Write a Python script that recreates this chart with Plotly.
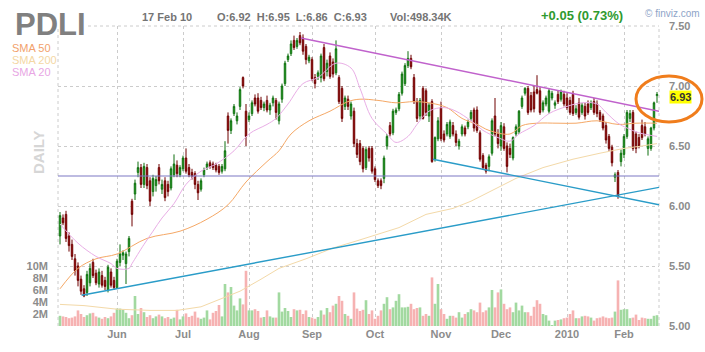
import plotly.graph_objects as go

# ---------------- data ----------------
ticker = "PDLI"
month_labels = ["Jun", "Jul", "Aug", "Sep", "Oct", "Nov", "Dec", "2010", "Feb"]
month_start_idx = [19, 41, 63, 84, 105, 127, 147, 169, 188]

opens = [5.75, 5.90, 5.93, 5.75, 5.68, 5.56, 5.50, 5.39, 5.31, 5.28,
         5.36, 5.53, 5.44, 5.35, 5.42, 5.38, 5.30, 5.45, 5.38, 5.32,
         5.53, 5.59, 5.52, 5.62, 6.04, 6.10, 6.28, 6.32, 6.18, 6.32,
         6.21, 6.12, 6.17, 6.32, 6.14, 6.21, 6.18, 6.15, 6.26, 6.34,
         6.26, 6.31, 6.40, 6.32, 6.28, 6.27, 6.18, 6.14, 6.26, 6.32,
         6.36, 6.35, 6.34, 6.33, 6.29, 6.31, 6.75, 6.63, 6.77, 6.71,
         6.83, 7.07, 6.79, 6.72, 6.77, 6.90, 6.90, 6.88, 6.82, 6.88,
         6.80, 6.86, 6.88, 6.71, 6.89, 7.02, 7.22, 7.27, 7.38, 7.33,
         7.42, 7.40, 7.33, 7.21, 7.22, 7.07, 7.08, 7.07, 7.32, 7.12,
         7.25, 7.20, 7.11, 7.07, 6.98, 6.83, 6.89, 6.75, 6.79, 6.52,
         6.52, 6.48, 6.32, 6.48, 6.48, 6.31, 6.21, 6.21, 6.23, 6.50,
         6.67, 6.61, 6.78, 6.81, 6.94, 7.02, 7.17, 7.23, 7.07, 6.87,
         6.75, 6.98, 6.96, 6.75, 6.87, 6.39, 6.56, 6.82, 6.60, 6.60,
         6.58, 6.67, 6.60, 6.50, 6.60, 6.65, 6.66, 6.73, 6.80, 6.80,
         6.61, 6.42, 6.34, 6.33, 6.44, 6.75, 6.60, 6.50, 6.66, 6.50,
         6.48, 6.40, 6.60, 6.62, 6.83, 6.94, 6.98, 6.92, 6.95, 6.97,
         6.96, 6.80, 6.85, 6.79, 6.90, 6.84, 6.93, 6.89, 6.93, 6.90,
         6.88, 6.93, 6.78, 6.86, 6.78, 6.83, 6.85, 6.82, 6.87, 6.85,
         6.78, 6.75, 6.67, 6.58, 6.49, 6.24, 6.28, 6.37, 6.43, 6.58,
         6.73, 6.78, 6.60, 6.57, 6.67, 6.66, 6.48, 6.48, 6.65, 6.92]
highs = [5.95, 5.93, 5.96, 5.78, 5.72, 5.60, 5.53, 5.42, 5.34, 5.46,
         5.52, 5.56, 5.47, 5.48, 5.46, 5.41, 5.51, 5.48, 5.41, 5.56,
         5.68, 5.63, 5.62, 5.75, 6.06, 6.22, 6.37, 6.35, 6.36, 6.35,
         6.24, 6.26, 6.25, 6.35, 6.22, 6.24, 6.21, 6.33, 6.43, 6.38,
         6.34, 6.42, 6.48, 6.35, 6.31, 6.29, 6.21, 6.23, 6.32, 6.37,
         6.38, 6.37, 6.36, 6.35, 6.35, 6.54, 6.78, 6.73, 6.85, 6.78,
         6.99, 7.08, 6.85, 6.78, 6.88, 6.93, 6.94, 6.91, 6.87, 6.92,
         6.86, 6.92, 6.90, 6.87, 7.02, 7.21, 7.27, 7.38, 7.42, 7.40,
         7.45, 7.43, 7.35, 7.26, 7.24, 7.10, 7.13, 7.27, 7.35, 7.22,
         7.28, 7.23, 7.38, 7.09, 7.00, 6.92, 6.92, 6.87, 6.82, 6.56,
         6.55, 6.50, 6.49, 6.50, 6.50, 6.33, 6.23, 6.23, 6.42, 6.60,
         6.70, 6.81, 6.82, 6.95, 7.12, 7.19, 7.29, 7.26, 7.10, 6.90,
         6.90, 7.00, 6.98, 6.86, 6.89, 6.58, 6.74, 6.87, 6.63, 6.70,
         6.72, 6.70, 6.63, 6.56, 6.68, 6.67, 6.72, 6.80, 6.82, 6.83,
         6.63, 6.44, 6.36, 6.43, 6.73, 6.90, 6.64, 6.70, 6.69, 6.53,
         6.52, 6.58, 6.68, 6.80, 6.92, 6.99, 7.00, 6.95, 7.00, 7.09,
         6.99, 6.88, 6.92, 6.98, 6.96, 6.88, 6.96, 6.97, 6.96, 6.94,
         6.91, 6.96, 6.84, 6.90, 6.86, 6.86, 6.88, 6.88, 6.90, 6.88,
         6.80, 6.77, 6.70, 6.60, 6.51, 6.28, 6.30, 6.47, 6.60, 6.80,
         6.80, 6.80, 6.62, 6.60, 6.72, 6.70, 6.58, 6.66, 6.87, 6.95]
lows = [5.68, 5.84, 5.70, 5.62, 5.55, 5.42, 5.33, 5.26, 5.24, 5.25,
        5.33, 5.40, 5.34, 5.32, 5.32, 5.30, 5.28, 5.32, 5.30, 5.31,
        5.50, 5.55, 5.35, 5.58, 5.83, 6.05, 6.24, 6.15, 6.15, 6.14,
        6.00, 6.08, 6.12, 6.18, 6.10, 6.04, 6.08, 6.13, 6.24, 6.24,
        6.24, 6.29, 6.27, 6.24, 6.22, 6.14, 6.05, 6.12, 6.24, 6.30,
        6.31, 6.30, 6.28, 6.26, 6.27, 6.29, 6.52, 6.60, 6.75, 6.68,
        6.80, 6.98, 6.50, 6.70, 6.75, 6.83, 6.77, 6.80, 6.79, 6.78,
        6.76, 6.83, 6.72, 6.68, 6.86, 7.00, 7.20, 7.25, 7.30, 7.31,
        7.34, 7.26, 7.18, 7.19, 7.04, 6.98, 7.05, 7.03, 7.04, 7.08,
        7.06, 7.07, 7.09, 6.85, 6.70, 6.80, 6.80, 6.72, 6.49, 6.40,
        6.34, 6.28, 6.30, 6.37, 6.27, 6.20, 6.15, 6.14, 6.19, 6.47,
        6.58, 6.59, 6.76, 6.79, 6.92, 7.00, 7.15, 7.14, 6.85, 6.70,
        6.72, 6.72, 6.75, 6.70, 6.36, 6.37, 6.54, 6.54, 6.53, 6.58,
        6.56, 6.58, 6.50, 6.47, 6.58, 6.58, 6.64, 6.71, 6.62, 6.61,
        6.37, 6.30, 6.27, 6.29, 6.42, 6.58, 6.48, 6.46, 6.46, 6.28,
        6.40, 6.38, 6.58, 6.60, 6.81, 6.92, 6.76, 6.78, 6.78, 6.93,
        6.76, 6.78, 6.83, 6.77, 6.88, 6.81, 6.85, 6.87, 6.83, 6.80,
        6.76, 6.75, 6.76, 6.72, 6.76, 6.72, 6.76, 6.80, 6.76, 6.74,
        6.70, 6.63, 6.52, 6.46, 6.33, 6.20, 6.06, 6.33, 6.40, 6.56,
        6.70, 6.46, 6.44, 6.48, 6.55, 6.58, 6.42, 6.46, 6.63, 6.86]
closes = [5.92, 5.86, 5.73, 5.67, 5.58, 5.46, 5.38, 5.29, 5.25, 5.43,
          5.48, 5.42, 5.36, 5.45, 5.34, 5.33, 5.49, 5.34, 5.32, 5.54,
          5.60, 5.61, 5.60, 5.73, 5.93, 6.19, 6.32, 6.18, 6.33, 6.17,
          6.04, 6.23, 6.22, 6.21, 6.18, 6.07, 6.12, 6.31, 6.35, 6.27,
          6.32, 6.40, 6.29, 6.26, 6.25, 6.18, 6.11, 6.21, 6.30, 6.35,
          6.33, 6.32, 6.30, 6.28, 6.33, 6.46, 6.63, 6.71, 6.83, 6.75,
          6.97, 7.00, 6.58, 6.75, 6.86, 6.85, 6.79, 6.82, 6.85, 6.80,
          6.84, 6.90, 6.78, 6.85, 7.00, 7.19, 7.25, 7.35, 7.32, 7.38,
          7.36, 7.29, 7.22, 7.24, 7.06, 7.02, 7.11, 7.25, 7.06, 7.19,
          7.08, 7.10, 7.31, 6.87, 6.73, 6.90, 6.83, 6.85, 6.52, 6.43,
          6.37, 6.31, 6.47, 6.40, 6.29, 6.22, 6.17, 6.17, 6.40, 6.58,
          6.60, 6.79, 6.80, 6.93, 7.10, 7.17, 7.23, 7.16, 6.87, 6.73,
          6.88, 6.73, 6.78, 6.84, 6.37, 6.57, 6.71, 6.56, 6.55, 6.68,
          6.70, 6.60, 6.53, 6.54, 6.66, 6.60, 6.70, 6.78, 6.65, 6.63,
          6.39, 6.32, 6.29, 6.41, 6.71, 6.60, 6.52, 6.67, 6.48, 6.33,
          6.43, 6.57, 6.66, 6.79, 6.90, 6.98, 6.78, 6.80, 6.81, 6.94,
          6.78, 6.86, 6.90, 6.96, 6.94, 6.86, 6.87, 6.95, 6.85, 6.82,
          6.78, 6.77, 6.81, 6.74, 6.84, 6.75, 6.78, 6.86, 6.78, 6.77,
          6.72, 6.65, 6.55, 6.48, 6.36, 6.26, 6.08, 6.44, 6.58, 6.78,
          6.77, 6.48, 6.48, 6.50, 6.57, 6.60, 6.56, 6.65, 6.86, 6.93]

volume_m = [1.7, 1.6, 1.5, 1.3, 1.4, 1.6, 2.6, 2.0, 1.5, 1.8,
            2.1, 2.2, 1.6, 1.4, 1.2, 1.5, 1.3, 1.6, 2.2,
            2.9, 2.9, 2.7, 2.2, 1.3, 1.8, 5.0, 2.0, 3.0, 2.3,
            1.5, 1.8, 1.3, 1.6, 1.9, 1.6, 1.3, 1.5, 1.2, 1.4, 2.7, 1.1,
            1.6, 2.1, 1.5, 1.7, 2.4, 1.4, 1.2, 1.4, 2.6, 1.1,
            2.2, 2.5, 3.5, 1.6, 7.0, 5.6, 6.5, 3.4, 2.6, 4.6, 3.6, 9.2,
            2.6, 2.6, 2.8, 2.5, 1.4, 1.5, 2.6, 1.6, 1.4, 1.4,
            5.6, 2.4, 3.0, 2.5, 1.5, 2.8, 2.6, 2.7, 2.0, 2.6, 1.5,
            1.4, 1.2, 1.5, 2.6, 1.9, 3.0, 2.3, 3.4, 3.7, 5.0,
            4.2, 2.0, 1.7, 1.2, 5.6, 2.9, 2.5, 2.7, 4.3, 2.0, 2.6,
            1.2, 1.7, 2.6, 3.7, 4.8, 2.8, 3.1, 4.2, 5.3, 3.1, 3.1,
            3.2, 3.7, 2.8, 3.0, 3.1, 1.7, 2.0, 1.7, 8.1, 3.7, 7.0,
            2.8, 2.0, 1.2, 1.7, 1.7, 1.4, 2.3, 1.4, 2.0, 2.3,
            2.8, 2.6, 2.3, 3.9, 2.3, 2.6, 3.1, 6.0, 3.1, 5.6,
            6.1, 3.7, 2.8, 3.1, 2.3, 3.9, 2.6, 3.4, 2.3, 2.3, 1.7,
            3.2, 4.3, 3.7, 2.0, 1.8, 0.9, 0.1, 0.9, 1.0, 1.1, 1.3,
            1.4, 2.0, 2.6, 1.3, 1.3, 1.6, 1.7, 1.6, 1.4, 0.9,
            1.3, 1.4, 1.6, 1.4, 1.3, 1.4, 2.4, 7.6, 2.7,
            2.8, 2.8, 1.3, 1.4, 1.9, 1.0, 1.4, 1.3, 1.2, 1.2, 1.7, 1.8]

sma20_idx = [0, 6, 12, 17, 19, 23, 24, 28, 31, 34, 38, 42, 47, 52, 58, 63, 69, 72, 76, 81,
             86, 92, 97, 100, 104, 109, 112, 116, 119, 123, 128, 132, 137, 141, 146, 150,
             153, 158, 163, 169, 174, 179, 182, 186, 189, 193, 199]
sma20_val = [5.85, 5.69, 5.58, 5.52, 5.48, 5.48, 5.52, 5.68, 5.79, 5.90, 6.02, 6.18, 6.29, 6.35,
             6.46, 6.60, 6.68, 6.73, 6.85, 7.02, 7.07, 7.19, 7.15, 6.98, 6.73, 6.60, 6.53, 6.58,
             6.68, 6.79, 6.82, 6.79, 6.71, 6.63, 6.57, 6.54, 6.60, 6.67, 6.77, 6.83, 6.86, 6.85,
             6.78, 6.69, 6.65, 6.61, 6.58]
sma50_idx = [0, 6, 12, 19, 29, 40, 49, 56, 62, 69, 73, 77, 83, 90, 96, 100, 106, 112, 118,
             123, 129, 134, 139, 143, 150, 154, 159, 166, 172, 179, 186, 192, 199]
sma50_val = [5.31, 5.48, 5.56, 5.60, 5.73, 5.79, 5.89, 6.01, 6.20, 6.37, 6.46, 6.60, 6.71,
             6.79, 6.87, 6.89, 6.88, 6.86, 6.87, 6.86, 6.82, 6.73, 6.68, 6.63, 6.60, 6.67,
             6.69, 6.69, 6.69, 6.71, 6.68, 6.69, 6.69]
sma200_idx = [0, 8, 19, 30, 39, 47, 53, 60, 67, 73, 82, 91, 99, 107, 113, 122, 131, 137,
              146, 152, 161, 171, 180, 188, 194, 199]
sma200_val = [5.18, 5.17, 5.14, 5.13, 5.13, 5.16, 5.22, 5.29, 5.39, 5.48, 5.56, 5.65, 5.71,
              5.77, 5.82, 5.93, 5.98, 6.04, 6.15, 6.23, 6.32, 6.39, 6.44, 6.48, 6.50, 6.52]

# trend lines drawn on the chart (index, price)
resist_line = ([80.3, 199.67], [7.40, 6.79])
support_up = ([7.2, 199.67], [5.256, 6.155])
support_down = ([124.3, 199.67], [6.39, 6.01])
flat_line = ([-0.667, 199.667], [6.25, 6.25])

price_ticks = [5.0, 5.5, 6.0, 6.5, 7.0, 7.5]
vol_ticks_m = [2, 4, 6, 8, 10]
last_price = 6.93

# ---------------- figure ----------------
FONT = "Liberation Sans, Arial, sans-serif"
GRID = "#cccccc"
n = len(closes)
idx = list(range(n))
L, R, T, B, W, H = 58, 46, 26, 26, 705, 352
PW, PH = W - L - R, H - T - B


def px(x):
    return (x - L) / PW


def py(y):
    return (H - B - y) / PH


vol_colors = ["#a2d9a0" if c >= o else "#f6b2b2" for o, c in zip(opens, closes)]

fig = go.Figure()
fig.add_trace(go.Bar(x=idx, y=[v * 1e6 for v in volume_m], marker=dict(color=vol_colors, line=dict(width=0)),
                     yaxis="y", xaxis="x", hoverinfo="skip"))
fig.add_trace(go.Scatter(x=sma200_idx, y=sma200_val, mode="lines", line=dict(color="#f3d9a8", width=1), yaxis="y2"))
fig.add_trace(go.Scatter(x=sma50_idx, y=sma50_val, mode="lines", line=dict(color="#f5a866", width=1, shape="spline"), yaxis="y2"))
fig.add_trace(go.Scatter(x=sma20_idx, y=sma20_val, mode="lines", line=dict(color="#e9aee6", width=1, shape="spline"), yaxis="y2"))
fig.add_trace(go.Scatter(x=flat_line[0], y=flat_line[1], mode="lines", line=dict(color="#7c78c4", width=1.2), yaxis="y2"))
fig.add_trace(go.Candlestick(x=idx, open=opens, high=highs, low=lows, close=closes, yaxis="y2",
                             increasing=dict(line=dict(color="#0e6e0e", width=1), fillcolor="#33c133"),
                             decreasing=dict(line=dict(color="#6e0000", width=1), fillcolor="#b00f0f"),
                             whiskerwidth=0))
fig.add_trace(go.Scatter(x=resist_line[0], y=resist_line[1], mode="lines", line=dict(color="#c062cc", width=1.4), yaxis="y2"))
fig.add_trace(go.Scatter(x=support_up[0], y=support_up[1], mode="lines", line=dict(color="#2a9cc8", width=1.4), yaxis="y2"))
fig.add_trace(go.Scatter(x=support_down[0], y=support_down[1], mode="lines", line=dict(color="#2a9cc8", width=1.4), yaxis="y2"))

tickfont = dict(family=FONT, size=11, color="#8c8c8c", weight="bold")
fig.update_layout(
    width=W, height=H, margin=dict(l=L, r=R, t=T, b=B),
    paper_bgcolor="white", plot_bgcolor="white", showlegend=False,
    xaxis=dict(range=[-0.667, 199.667], tickmode="array", tickvals=month_start_idx, ticktext=month_labels,
               showgrid=True, gridcolor=GRID, griddash="3px,3px", gridwidth=1, zeroline=False,
               showline=False, ticks="", tickfont=tickfont, rangeslider=dict(visible=False), fixedrange=True),
    yaxis=dict(range=[0, 50e6], side="left", tickmode="array", tickvals=[v * 1e6 for v in vol_ticks_m],
               ticktext=[f"{v}M" for v in vol_ticks_m], showgrid=False, zeroline=False, showline=False,
               ticks="", tickfont=tickfont, ticklabelstandoff=9),
    yaxis2=dict(range=[5.0, 7.5], side="right", overlaying="y", tickmode="array", tickvals=price_ticks,
                ticktext=[f"{v:.2f}" for v in price_ticks], showgrid=True, gridcolor=GRID, griddash="3px,3px",
                zeroline=False, showline=False, ticks="", tickfont=tickfont, ticklabelstandoff=9),
    bargap=0.12,
)

# dashed frame (left, right, top)
for x0, y0, x1, y1 in [(0, 0, 0, 1), (1, 0, 1, 1), (0, 1, 1, 1)]:
    fig.add_shape(type="line", xref="paper", yref="paper", x0=x0, y0=y0, x1=x1, y1=y1,
                  line=dict(color=GRID, width=1, dash="3px,3px"), layer="below")
# the ticker title hides the frame where it sits
fig.add_shape(type="rect", xref="paper", yref="paper", x0=px(56), x1=px(86), y0=py(29), y1=py(22),
              fillcolor="white", line=dict(width=0), layer="above")

# highlight ellipse
fig.add_shape(type="circle", xref="paper", yref="paper", x0=px(636), x1=px(702), y0=py(122), y1=py(76),
              line=dict(color="#f07d1c", width=3))


def ann(text, x, y, size, color, bold=False, xanchor="left", **kw):
    fig.add_annotation(text=text, xref="paper", yref="paper", x=px(x), y=py(y), xanchor=xanchor,
                       yanchor="middle", showarrow=False,
                       font=dict(family=FONT, size=size, color=color, weight="bold" if bold else "normal"), **kw)


ann(ticker, 14, 24.5, 31, "#808080", bold=True, borderpad=0)
ann("17 Feb 10", 140, 17, 11, "#747474", bold=True)
nb = "\u00a0\u00a0"
ann(f"O:{opens[-1]:.2f}{nb}H:{highs[-1]:.2f}{nb}L:{lows[-1]:.2f}{nb}C:{closes[-1]:.2f}", 215, 17, 11, "#747474", bold=True)
ann("Vol:498.34K", 388, 17, 11, "#747474", bold=True)
ann("+0.05 (0.73%)", 539, 16, 13, "#2f9a2f", bold=True)
ann("\u00a9 finviz.com", 643, 14, 10, "#8ea4c8")
ann("SMA 50", 11, 48.5, 11, "#f2a16c", borderpad=0)
ann("SMA 200", 11, 60, 11, "#f4d7a4", borderpad=0)
ann("SMA 20", 11, 72, 11, "#e8a6e4", borderpad=0)
ann("DAILY", 38, 152, 15, "#d6d6d6", bold=True, xanchor="center", textangle=-90)
fig.add_annotation(text=f"{last_price:.2f}", xref="paper", yref="y2", x=px(680), y=6.91, xanchor="center",
                   yanchor="middle", showarrow=False, bgcolor="#ffff00", borderpad=0,
                   font=dict(family=FONT, size=11, color="#333333", weight="bold"))

fig.write_html("out.html")
